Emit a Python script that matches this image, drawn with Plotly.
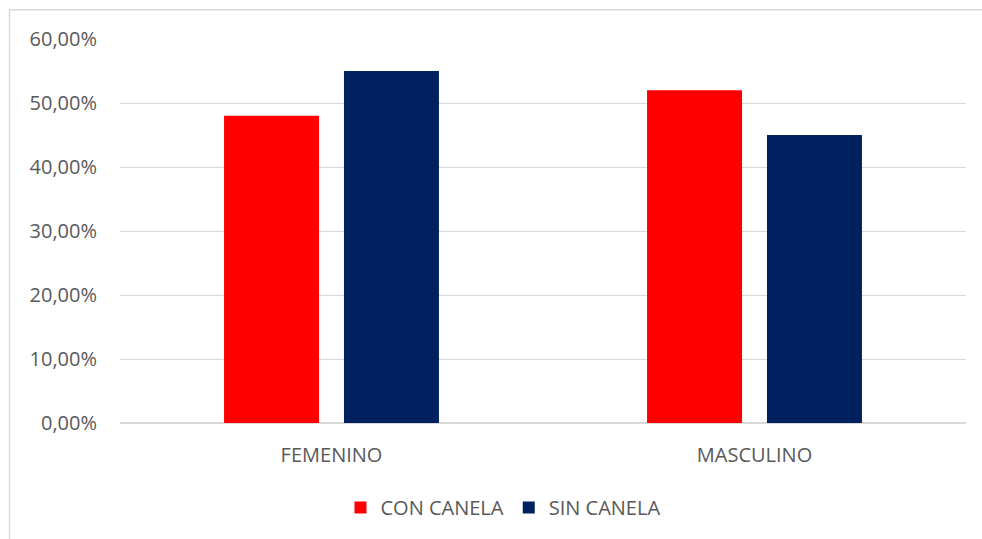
import plotly.graph_objects as go

categories = ["FEMENINO", "MASCULINO"]
series_names = ["CON CANELA", "SIN CANELA"]
con_canela = [0.48, 0.52]
sin_canela = [0.55, 0.45]
y_ticks = [0, 0.1, 0.2, 0.3, 0.4, 0.5, 0.6]

colors = ["#FF0000", "#002060"]
font_family = "Open Sans, sans-serif"
text_color = "#595959"

fig = go.Figure()
for name, vals, c in zip(series_names, [con_canela, sin_canela], colors):
    fig.add_trace(go.Bar(x=categories, y=vals, name=name,
                         marker=dict(color=c, line=dict(width=0))))

W, H = 982, 539
ml, mt = 120, 39
mr = W - 966
mb = H - 425
pw = W - ml - mr
ph = H - mt - mb

def px_x(x):
    return (x - ml) / pw

def px_y(y):
    return (H - mb - y) / ph

border_color = "#D9D9D9"
fig.update_layout(
    width=W, height=H,
    margin=dict(l=ml, r=mr, t=mt, b=mb, pad=0),
    paper_bgcolor="white", plot_bgcolor="white",
    separators=",.",
    barmode="group", bargap=0.433, bargroupgap=0.208,
    font=dict(family=font_family, size=20, color=text_color),
    showlegend=True,
    hovermode=False,
    legend=dict(orientation="h", x=px_x(503), xanchor="center",
                y=px_y(510), yanchor="middle",
                font=dict(size=20, color=text_color),
                traceorder="normal", itemsizing="constant"),
    xaxis=dict(showgrid=False, showline=False, ticks="", ticklabelstandoff=18,
               tickfont=dict(size=20, color=text_color)),
    yaxis=dict(range=[0, 0.6], tickvals=y_ticks, tickformat=".2%",
               showgrid=True, gridcolor="#D9D9D9", gridwidth=1,
               zeroline=True, zerolinecolor="#D9D9D9", zerolinewidth=1.5,
               showline=False, ticks="", ticklabelstandoff=22,
               tickfont=dict(size=20, color=text_color)),
    shapes=[
        dict(type="line", xref="paper", yref="paper",
             x0=px_x(9), x1=px_x(1000), y0=px_y(9.5), y1=px_y(9.5),
             line=dict(color=border_color, width=1.5), layer="below"),
        dict(type="line", xref="paper", yref="paper",
             x0=px_x(9.5), x1=px_x(9.5), y0=px_y(9), y1=px_y(600),
             line=dict(color=border_color, width=1.5), layer="below"),
    ],
)

fig.write_html(
    "out.html",
    config={"displayModeBar": False},
    post_script="document.body.style.margin='0';document.body.style.overflow='hidden';",
)
